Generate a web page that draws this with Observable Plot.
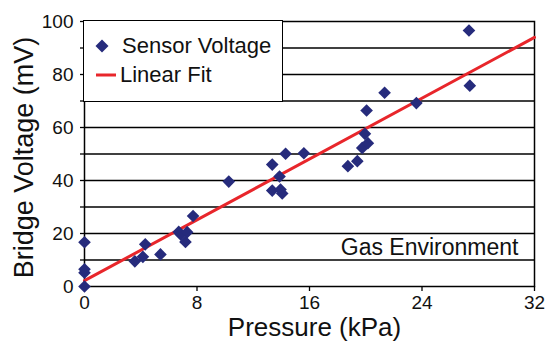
<!DOCTYPE html>
<html>
<head>
<meta charset="utf-8">
<script src="https://cdn.jsdelivr.net/npm/d3@7"></script>
<script src="https://cdn.jsdelivr.net/npm/@observablehq/plot@0.6"></script>
<style>
  body { margin: 0; background: #fff; }
  #wrap { position: relative; width: 546px; height: 342px; font-family: "Liberation Sans", Arial, Helvetica, sans-serif; }
  #legend { position: absolute; left: 83px; top: 20px; width: 200px; height: 82px; box-sizing: border-box;
            border: 1.5px solid #000; background: #fff; font-size: 22px; color: #111; }
  .item { position: absolute; left: 10px; display: flex; align-items: center; white-space: nowrap; }
  .item svg { margin-right: 4px; }
</style>
</head>
<body>
<div id="wrap"></div>
<script>
// Data
const pressure = [0, 0, 0, 0, 3.58, 4.15, 4.32, 5.4, 6.7, 6.85, 7.3, 7.18, 7.72, 10.26,
  13.35, 13.87, 13.35, 13.94, 14.06, 14.3, 15.6, 18.73, 19.4, 19.75, 20.15, 19.94, 20.06,
  21.34, 23.6, 27.4, 27.34];
const voltage = [0, 5.2, 6.5, 16.7, 9.5, 11.2, 15.9, 12.1, 20.6, 19.6, 20.5, 16.8, 26.6, 39.6,
  46, 41.5, 36.2, 36.6, 35.1, 50.1, 50.3, 45.4, 47.3, 52.3, 54.1, 57.6, 66.4,
  73.1, 69.2, 75.8, 96.6];
const fitX = [0, 32];
const fitY = [2.2, 94];
const xTicks = [0, 8, 16, 24, 32];
const yTicks = [0, 10, 20, 30, 40, 50, 60, 70, 80, 90, 100];
const yLabelTicks = [0, 20, 40, 60, 80, 100];
const gridLines = [10, 20, 30, 40, 50, 60, 70, 80, 90];
const seriesNames = ["Sensor Voltage", "Linear Fit"];
const xTitle = "Pressure (kPa)";
const yTitle = "Bridge Voltage (mV)";
const note = "Gas Environment";

const navy = "#262b7c";
const red = "#e8262b";
const font = '"Liberation Sans", Arial, Helvetica, sans-serif';

const points = pressure.map((p, i) => ({p, v: voltage[i]}));
const fit = fitX.map((x, i) => ({x, y: fitY[i]}));

const chart = Plot.plot({
  width: 546,
  height: 342,
  marginLeft: 84,
  marginRight: 12,
  marginTop: 21,
  marginBottom: 56,
  style: {fontFamily: font, color: "#111", background: "#fff"},
  x: {domain: [0, 32]},
  y: {domain: [0, 100]},
  marks: [
    Plot.ruleY(gridLines, {stroke: "#000", strokeWidth: 1.3}),
    Plot.axisY({ticks: yTicks, tickSize: 4, tickPadding: 7, fontSize: 19, stroke: "#000", strokeWidth: 1.3,
      tickFormat: d => yLabelTicks.includes(d) ? String(d) : "", label: null}),
    Plot.axisX({ticks: xTicks, tickSize: 5, tickPadding: 4, fontSize: 19, stroke: "#000", strokeWidth: 1.3, label: null}),
    Plot.frame({stroke: "#000", strokeWidth: 1.5}),
    Plot.line(fit, {x: "x", y: "y", stroke: red, strokeWidth: 3}),
    Plot.dot(points, {x: "p", y: "v", symbol: "diamond2", r: 5.7, fill: navy, stroke: "none"}),
    Plot.text([note], {frameAnchor: "bottom-right", dx: -16, dy: -39, textAnchor: "end", lineAnchor: "middle", fontSize: 23, fill: "#111"}),
    Plot.text([xTitle], {frameAnchor: "bottom", textAnchor: "middle", dx: 5, dy: 41.5, lineAnchor: "middle", fontSize: 26, fill: "#111"}),
    Plot.text([yTitle], {frameAnchor: "left", textAnchor: "middle", rotate: -90, dx: -60, dy: 3.5, lineAnchor: "middle", fontSize: 27, fill: "#111"})
  ]
});

const wrap = document.getElementById("wrap");
wrap.appendChild(chart);

// Legend
const legend = document.createElement("div");
legend.id = "legend";
const it1 = document.createElement("div");
it1.className = "item";
it1.style.top = "12px";
it1.innerHTML = `<svg width="24" height="16"><path d="M8,1.5 L14.5,8 L8,14.5 L1.5,8 Z" fill="${navy}"/></svg>`;
it1.appendChild(document.createTextNode(seriesNames[0]));
const it2 = document.createElement("div");
it2.className = "item";
it2.style.top = "41px";
it2.innerHTML = `<svg width="24" height="16"><line x1="2" x2="22" y1="8" y2="8" stroke="${red}" stroke-width="3"/></svg>`;
it2.appendChild(document.createTextNode(seriesNames[1]));
it2.querySelector("svg").style.marginRight = "2px";
legend.appendChild(it1);
legend.appendChild(it2);
wrap.appendChild(legend);
</script>
</body>
</html>
